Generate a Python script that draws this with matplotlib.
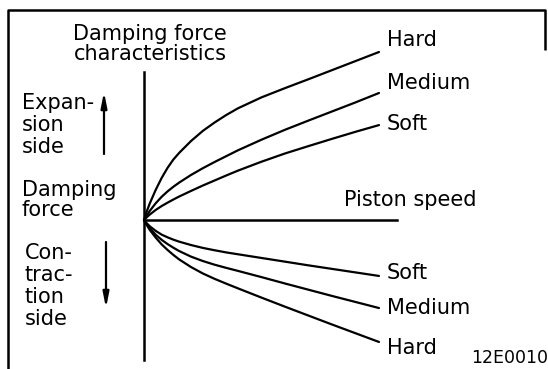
import numpy as np
import matplotlib
matplotlib.use("Agg")
import matplotlib.pyplot as plt

# piston speed (arbitrary units) and damping force for each setting
speed = [0, 0.1, 0.25, 0.5, 0.75, 1, 1.25, 1.5, 2, 2.5, 3, 3.5, 4, 5, 6, 7, 8, 9, 10]
exp_hard = [0, 0.45, 1.0, 1.8, 2.5, 3.1, 3.6, 4.0, 4.7, 5.3, 5.8, 6.25, 6.65,
            7.3, 7.85, 8.38, 8.92, 9.46, 10.0]
exp_medium = [0, 0.22, 0.55, 1.0, 1.38, 1.7, 1.98, 2.23, 2.68, 3.08, 3.45, 3.8, 4.15,
              4.78, 5.37, 5.92, 6.46, 7.0, 7.56]
exp_soft = [0, 0.14, 0.33, 0.6, 0.83, 1.03, 1.22, 1.4, 1.73, 2.05, 2.35, 2.65, 2.94,
            3.47, 3.96, 4.4, 4.83, 5.25, 5.65]
con_soft = [0, -0.17, -0.38, -0.65, -0.87, -1.03, -1.17, -1.29, -1.49, -1.66, -1.8,
            -1.93, -2.04, -2.26, -2.48, -2.7, -2.91, -3.12, -3.33]
con_medium = [0, -0.22, -0.5, -0.88, -1.18, -1.43, -1.65, -1.85, -2.18, -2.44, -2.66,
              -2.85, -3.03, -3.4, -3.78, -4.15, -4.52, -4.88, -5.24]
con_hard = [0, -0.26, -0.6, -1.05, -1.45, -1.78, -2.08, -2.35, -2.8, -3.18, -3.5,
            -3.79, -4.07, -4.62, -5.16, -5.69, -6.22, -6.74, -7.26]

W, H = 548, 369
fig = plt.figure(figsize=(W / 100, H / 100), dpi=100)
ax = fig.add_axes([0, 0, 1, 1])
ax.set_axis_off()

# origin sits at pixel (144, 220); 23.5 px per speed unit, 16.8 px per force unit
ox, oy, sx, sy = 144, 220, 23.5, 16.8
ax.set_xlim(-ox / sx, (W - ox) / sx)
ax.set_ylim(-(H - oy) / sy, oy / sy)

def px(x, y):
    return ((x - ox) / sx, (oy - y) / sy)

lw = 1.6
fs = 15
font = "DejaVu Sans"

# outer frame (left, top, short piece on the right)
fx = [px(8, 369)[0], px(8, 10)[0], px(545, 10)[0], px(545, 50)[0]]
fy = [px(8, 369)[1], px(8, 10)[1], px(545, 10)[1], px(545, 50)[1]]
ax.plot(fx, fy, color="black", lw=1.8, solid_capstyle="butt")

# axes
ax.plot([0, 0], [px(0, 72)[1], px(0, 360)[1]], color="black", lw=1.8)
ax.plot([0, px(397, 0)[0]], [0, 0], color="black", lw=1.8)

for f in [exp_hard, exp_medium, exp_soft, con_soft, con_medium, con_hard]:
    ax.plot(speed, f, color="black", lw=lw, solid_capstyle="round",
            solid_joinstyle="round")

# curve labels
labels = [("Hard", 40), ("Medium", 83), ("Soft", 124),
          ("Soft", 273), ("Medium", 308), ("Hard", 348)]
for txt, ypx in labels:
    x, y = px(387, ypx)
    ax.text(x, y, txt, fontsize=fs, family=font, ha="left", va="center")

x, y = px(344, 200)
ax.text(x, y, "Piston speed", fontsize=fs, family=font, ha="left", va="center")

x, y = px(150, 44)
ax.text(x, y, "Damping force\ncharacteristics", fontsize=fs, family=font,
        ha="center", va="center", linespacing=1.05)

x, y = px(22, 125)
ax.text(x, y, "Expan-\nsion\nside", fontsize=fs, family=font,
        ha="left", va="center", linespacing=1.12)
x, y = px(22, 200)
ax.text(x, y, "Damping\nforce", fontsize=fs, family=font,
        ha="left", va="center", linespacing=1.05)
x, y = px(25, 286)
ax.text(x, y, "Con-\ntrac-\ntion\nside", fontsize=fs, family=font,
        ha="left", va="center", linespacing=1.12)

x, y = px(471, 358)
ax.text(x, y, "12E0010", fontsize=12.5, family=font, ha="left", va="center")

# direction arrows
arrow = dict(arrowstyle="-|>,head_length=0.9,head_width=0.18", color="black",
             lw=1.6, shrinkA=0, shrinkB=0)
ax.annotate("", xy=px(104, 92), xytext=px(104, 154), arrowprops=arrow)
ax.annotate("", xy=px(106, 308), xytext=px(106, 242), arrowprops=arrow)

fig.savefig("out.png", dpi=100)
